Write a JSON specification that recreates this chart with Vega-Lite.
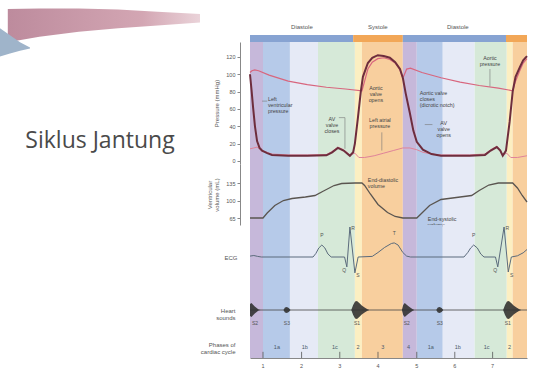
{
  "$schema": "https://vega.github.io/schema/vega-lite/v6.json",
  "padding": 0,
  "background": "white",
  "config": {"view": {"stroke": null}, "font": "Liberation Sans", "axis": {"grid": false}},
  "datasets": {
    "bands": [
      {"start": 0, "end": 68, "phase": "iso-relax"},
      {"start": 68, "end": 209, "phase": "rapid-fill"},
      {"start": 209, "end": 356, "phase": "diastasis"},
      {"start": 356, "end": 549, "phase": "atrial"},
      {"start": 549, "end": 586, "phase": "iso-contract"},
      {"start": 586, "end": 800, "phase": "ejection"},
      {"start": 800, "end": 873, "phase": "iso-relax"},
      {"start": 873, "end": 1009, "phase": "rapid-fill"},
      {"start": 1009, "end": 1176, "phase": "diastasis"},
      {"start": 1176, "end": 1344, "phase": "atrial"},
      {"start": 1344, "end": 1375, "phase": "iso-contract"},
      {"start": 1375, "end": 1450, "phase": "ejection"}
    ],
    "strip": [
      {"start": 0, "end": 540, "kind": "Diastole"},
      {"start": 540, "end": 800, "kind": "Systole"},
      {"start": 800, "end": 1340, "kind": "Diastole"},
      {"start": 1340, "end": 1450, "kind": "Systole"}
    ],
    "cyclelabels": [
      {"t": 272, "lab": "Diastole"},
      {"t": 669, "lab": "Systole"},
      {"t": 1088, "lab": "Diastole"}
    ],
    "lv": [
      {"t": 0, "p": 100}, {"t": 8, "p": 82}, {"t": 16, "p": 62}, {"t": 26, "p": 40}, {"t": 37, "p": 23},
      {"t": 50, "p": 15}, {"t": 63, "p": 12}, {"t": 90, "p": 9}, {"t": 115, "p": 7}, {"t": 200, "p": 6},
      {"t": 300, "p": 6}, {"t": 400, "p": 6.5}, {"t": 430, "p": 10}, {"t": 460, "p": 15}, {"t": 490, "p": 12},
      {"t": 523, "p": 6}, {"t": 540, "p": 10}, {"t": 549, "p": 20}, {"t": 565, "p": 50}, {"t": 580, "p": 80},
      {"t": 591, "p": 97}, {"t": 617, "p": 113}, {"t": 640, "p": 119}, {"t": 669, "p": 122}, {"t": 700, "p": 121},
      {"t": 732, "p": 119}, {"t": 760, "p": 114}, {"t": 785, "p": 106}, {"t": 800, "p": 96}, {"t": 815, "p": 78},
      {"t": 837, "p": 55}, {"t": 855, "p": 35}, {"t": 873, "p": 22}, {"t": 905, "p": 13}, {"t": 950, "p": 8},
      {"t": 1000, "p": 6}, {"t": 1061, "p": 6}, {"t": 1150, "p": 6}, {"t": 1230, "p": 7}, {"t": 1260, "p": 12},
      {"t": 1292, "p": 16}, {"t": 1310, "p": 12}, {"t": 1323, "p": 6}, {"t": 1340, "p": 12}, {"t": 1359, "p": 45},
      {"t": 1375, "p": 80}, {"t": 1390, "p": 97}, {"t": 1412, "p": 108}, {"t": 1430, "p": 116}, {"t": 1450, "p": 121}
    ],
    "aorta": [
      {"t": 0, "p": 102}, {"t": 10, "p": 104}, {"t": 25, "p": 105}, {"t": 45, "p": 104}, {"t": 100, "p": 99},
      {"t": 200, "p": 92}, {"t": 300, "p": 88}, {"t": 400, "p": 85}, {"t": 500, "p": 83}, {"t": 586, "p": 81},
      {"t": 600, "p": 92}, {"t": 617, "p": 106}, {"t": 640, "p": 114}, {"t": 669, "p": 118}, {"t": 700, "p": 119},
      {"t": 732, "p": 117}, {"t": 760, "p": 113}, {"t": 785, "p": 105}, {"t": 797, "p": 97}, {"t": 805, "p": 98},
      {"t": 820, "p": 106}, {"t": 840, "p": 107}, {"t": 900, "p": 102}, {"t": 1000, "p": 96}, {"t": 1100, "p": 91},
      {"t": 1200, "p": 87}, {"t": 1300, "p": 84}, {"t": 1375, "p": 81}, {"t": 1390, "p": 92}, {"t": 1412, "p": 104},
      {"t": 1430, "p": 113}, {"t": 1450, "p": 118}
    ],
    "la": [
      {"t": 0, "p": 14}, {"t": 20, "p": 15}, {"t": 37, "p": 16}, {"t": 63, "p": 12}, {"t": 115, "p": 8},
      {"t": 200, "p": 7}, {"t": 300, "p": 7}, {"t": 400, "p": 7.5}, {"t": 430, "p": 11}, {"t": 460, "p": 16},
      {"t": 490, "p": 13}, {"t": 523, "p": 7}, {"t": 549, "p": 9}, {"t": 570, "p": 4}, {"t": 600, "p": 4},
      {"t": 650, "p": 6}, {"t": 700, "p": 9}, {"t": 750, "p": 12}, {"t": 800, "p": 15}, {"t": 837, "p": 15},
      {"t": 873, "p": 13}, {"t": 905, "p": 10}, {"t": 950, "p": 8}, {"t": 1000, "p": 7}, {"t": 1061, "p": 7},
      {"t": 1150, "p": 7}, {"t": 1230, "p": 8}, {"t": 1260, "p": 13}, {"t": 1292, "p": 17}, {"t": 1310, "p": 13},
      {"t": 1323, "p": 7}, {"t": 1344, "p": 9}, {"t": 1365, "p": 4}, {"t": 1400, "p": 4}, {"t": 1450, "p": 6}
    ],
    "pressurePointers": [
      {"t": 63, "t2": 90, "p": 69, "p2": 69},
      {"t": 465, "t2": 497, "p": 50, "p2": 50},
      {"t": 497, "t2": 497, "p": 50, "p2": 14},
      {"t": 690, "t2": 690, "p": 33, "p2": 12},
      {"t": 915, "t2": 955, "p": 42, "p2": 42},
      {"t": 1256, "t2": 1256, "p": 106, "p2": 86}
    ],
    "pressureNotesCenter": [
      {"t": 1256, "p": 121, "txt": "Aortic\npressure"},
      {"t": 429, "p": 51, "txt": "AV\nvalve\ncloses"},
      {"t": 659, "p": 86, "txt": "Aortic\nvalve\nopens"},
      {"t": 680, "p": 50, "txt": "Left atrial\npressure"},
      {"t": 1014, "p": 46, "txt": "AV\nvalve\nopens"}
    ],
    "pressureNotesLeft": [
      {"t": 94, "p": 74, "txt": "Left\nventricular\npressure"},
      {"t": 889, "p": 81, "txt": "Aortic valve\ncloses\n(dicrotic notch)"}
    ],
    "volume": [
      {"t": 0, "v": 65}, {"t": 68, "v": 65}, {"t": 90, "v": 75}, {"t": 130, "v": 90}, {"t": 175, "v": 100},
      {"t": 220, "v": 104}, {"t": 290, "v": 107}, {"t": 340, "v": 110}, {"t": 380, "v": 118}, {"t": 440, "v": 130},
      {"t": 480, "v": 134}, {"t": 549, "v": 135}, {"t": 586, "v": 135}, {"t": 600, "v": 130}, {"t": 630, "v": 113},
      {"t": 670, "v": 92}, {"t": 720, "v": 76}, {"t": 760, "v": 68}, {"t": 800, "v": 65}, {"t": 873, "v": 65},
      {"t": 900, "v": 75}, {"t": 940, "v": 90}, {"t": 1000, "v": 102}, {"t": 1100, "v": 107}, {"t": 1160, "v": 110},
      {"t": 1200, "v": 120}, {"t": 1250, "v": 131}, {"t": 1300, "v": 135}, {"t": 1375, "v": 135}, {"t": 1400, "v": 125},
      {"t": 1425, "v": 110}, {"t": 1450, "v": 97}
    ],
    "volumeNotes": [
      {"t": 617, "v": 146, "txt": "End-diastolic\nvolume"},
      {"t": 931, "v": 67, "txt": "End-systolic\nvolume"}
    ],
    "ecg": [
      {"t": 0, "mv": 0.03}, {"t": 20, "mv": 0.05}, {"t": 40, "mv": 0.02}, {"t": 60, "mv": 0}, {"t": 330, "mv": 0},
      {"t": 345, "mv": 0.12}, {"t": 360, "mv": 0.3}, {"t": 376, "mv": 0.4}, {"t": 392, "mv": 0.3}, {"t": 408, "mv": 0.1},
      {"t": 425, "mv": 0}, {"t": 495, "mv": 0}, {"t": 507, "mv": -0.33}, {"t": 523, "mv": 1.0}, {"t": 549, "mv": -0.53},
      {"t": 566, "mv": 0}, {"t": 640, "mv": 0.02}, {"t": 670, "mv": 0.15}, {"t": 705, "mv": 0.32}, {"t": 740, "mv": 0.45},
      {"t": 755, "mv": 0.47}, {"t": 775, "mv": 0.4}, {"t": 800, "mv": 0.15}, {"t": 820, "mv": 0.03}, {"t": 840, "mv": 0},
      {"t": 1120, "mv": 0}, {"t": 1140, "mv": 0.15}, {"t": 1155, "mv": 0.3}, {"t": 1171, "mv": 0.4}, {"t": 1190, "mv": 0.3},
      {"t": 1208, "mv": 0.1}, {"t": 1225, "mv": 0}, {"t": 1285, "mv": 0}, {"t": 1297, "mv": -0.33}, {"t": 1330, "mv": 1.0},
      {"t": 1352, "mv": -0.5}, {"t": 1368, "mv": 0}, {"t": 1400, "mv": 0.04}, {"t": 1430, "mv": 0.14}, {"t": 1450, "mv": 0.25}
    ],
    "ecgLabels": [
      {"t": 376, "mv": 0.75, "lab": "P"}, {"t": 493, "mv": -0.42, "lab": "Q"}, {"t": 540, "mv": 0.98, "lab": "R"},
      {"t": 565, "mv": -0.6, "lab": "S"}, {"t": 755, "mv": 0.8, "lab": "T"},
      {"t": 1171, "mv": 0.75, "lab": "P"}, {"t": 1283, "mv": -0.42, "lab": "Q"}, {"t": 1347, "mv": 0.98, "lab": "R"},
      {"t": 1370, "mv": -0.6, "lab": "S"}
    ],
    "sounds": [
      {"t": 0, "hi": 0.6, "lo": -0.6}, {"t": 8, "hi": 0.7, "lo": -0.7}, {"t": 15, "hi": 0.55, "lo": -0.55},
      {"t": 25, "hi": 0.35, "lo": -0.35}, {"t": 35, "hi": 0.2, "lo": -0.2}, {"t": 45, "hi": 0.05, "lo": -0.05},
      {"t": 55, "hi": 0, "lo": 0}, {"t": 175, "hi": 0, "lo": 0}, {"t": 183, "hi": 0.25, "lo": -0.25},
      {"t": 193, "hi": 0.3, "lo": -0.3}, {"t": 203, "hi": 0.2, "lo": -0.2}, {"t": 212, "hi": 0, "lo": 0},
      {"t": 530, "hi": 0, "lo": 0}, {"t": 540, "hi": 0.5, "lo": -0.5}, {"t": 550, "hi": 0.85, "lo": -0.85},
      {"t": 560, "hi": 0.9, "lo": -0.9}, {"t": 572, "hi": 0.7, "lo": -0.7}, {"t": 585, "hi": 0.45, "lo": -0.45},
      {"t": 600, "hi": 0.25, "lo": -0.25}, {"t": 615, "hi": 0.08, "lo": -0.08}, {"t": 625, "hi": 0, "lo": 0},
      {"t": 795, "hi": 0, "lo": 0}, {"t": 802, "hi": 0.5, "lo": -0.5}, {"t": 810, "hi": 0.7, "lo": -0.7},
      {"t": 822, "hi": 0.5, "lo": -0.5}, {"t": 835, "hi": 0.3, "lo": -0.3}, {"t": 850, "hi": 0.1, "lo": -0.1},
      {"t": 860, "hi": 0, "lo": 0}, {"t": 975, "hi": 0, "lo": 0}, {"t": 983, "hi": 0.25, "lo": -0.25},
      {"t": 993, "hi": 0.3, "lo": -0.3}, {"t": 1003, "hi": 0.2, "lo": -0.2}, {"t": 1012, "hi": 0, "lo": 0},
      {"t": 1325, "hi": 0, "lo": 0}, {"t": 1335, "hi": 0.5, "lo": -0.5}, {"t": 1345, "hi": 0.85, "lo": -0.85},
      {"t": 1355, "hi": 0.9, "lo": -0.9}, {"t": 1367, "hi": 0.7, "lo": -0.7}, {"t": 1380, "hi": 0.45, "lo": -0.45},
      {"t": 1395, "hi": 0.25, "lo": -0.25}, {"t": 1410, "hi": 0.08, "lo": -0.08}, {"t": 1420, "hi": 0, "lo": 0},
      {"t": 1450, "hi": 0, "lo": 0}
    ],
    "soundLabels": [
      {"t": 26, "lab": "S2"}, {"t": 193, "lab": "S3"}, {"t": 560, "lab": "S1"},
      {"t": 821, "lab": "S2"}, {"t": 993, "lab": "S3"}, {"t": 1349, "lab": "S1"}
    ],
    "phaseLabels": [
      {"t": 141, "lab": "1a"}, {"t": 287, "lab": "1b"}, {"t": 444, "lab": "1c"}, {"t": 565, "lab": "2"},
      {"t": 695, "lab": "3"}, {"t": 830, "lab": "4"}, {"t": 946, "lab": "1a"}, {"t": 1088, "lab": "1b"},
      {"t": 1239, "lab": "1c"}, {"t": 1359, "lab": "2"}
    ],
    "timeTicks": [
      {"t": 68, "lab": "1"}, {"t": 270, "lab": "2"}, {"t": 470, "lab": "3"}, {"t": 670, "lab": "4"},
      {"t": 873, "lab": "5"}, {"t": 1072, "lab": "6"}, {"t": 1270, "lab": "7"}
    ],
    "swooshPink": [
      {"u": 0.039, "top": 0.032, "bottom": 0.15}, {"u": 0.197, "top": 0.03, "bottom": 0.13},
      {"u": 0.394, "top": 0.03, "bottom": 0.113}, {"u": 0.591, "top": 0.034, "bottom": 0.1},
      {"u": 0.788, "top": 0.042, "bottom": 0.09}, {"u": 1.0, "top": 0.05, "bottom": 0.08}
    ],
    "swooshBlue": [
      {"u": 0, "top": 0.1, "bottom": 0.2}, {"u": 0.05, "top": 0.125, "bottom": 0.19},
      {"u": 0.1, "top": 0.15, "bottom": 0.18}, {"u": 0.15, "top": 0.168, "bottom": 0.172}
    ]
  },
  "spacing": 0,
  "resolve": {"scale": {"x": "independent", "y": "independent", "color": "independent"}},
  "hconcat": [
    {
      "width": 200,
      "height": 282,
      "layer": [
        {
          "data": {"name": "swooshPink"},
          "mark": {"type": "area", "color": {"gradient": "linear", "x1": 0, "x2": 1, "y1": 0, "y2": 0, "stops": [{"offset": 0, "color": "#bd8b9d"}, {"offset": 0.7, "color": "#d3a6b3"}, {"offset": 1, "color": "#ead3d9"}]}},
          "encoding": {
            "x": {"field": "u", "type": "quantitative", "scale": {"domain": [0, 1], "nice": false, "zero": false}, "axis": null},
            "y": {"field": "top", "type": "quantitative", "scale": {"domain": [0, 1], "nice": false, "zero": false, "reverse": true}, "axis": null},
            "y2": {"field": "bottom"}
          }
        },
        {
          "data": {"name": "swooshBlue"},
          "mark": {"type": "area", "color": "#9fb4ca"},
          "encoding": {
            "x": {"field": "u", "type": "quantitative", "scale": {"domain": [0, 1], "nice": false, "zero": false}, "axis": null},
            "y": {"field": "top", "type": "quantitative", "scale": {"domain": [0, 1], "nice": false, "zero": false, "reverse": true}, "axis": null},
            "y2": {"field": "bottom"}
          }
        },
        {
          "data": {"values": [{}]},
          "mark": {"type": "text", "text": "Siklus Jantung", "fontSize": 23, "font": "Open Sans", "color": "#4a4a4a"}
        }
      ]
    },
    {
      "spacing": 0,
      "bounds": "flush",
      "resolve": {"scale": {"x": "independent", "y": "independent", "color": "independent"}},
      "vconcat": [
        {
          "width": 277,
          "height": 42,
          "layer": [
            {
              "data": {"name": "strip"},
              "mark": {"type": "rect"},
              "encoding": {
                "x": {"field": "start", "type": "quantitative", "scale": {"domain": [0, 1450], "nice": false, "zero": false}, "axis": null},
                "x2": {"field": "end"},
                "y": {"datum": 0, "type": "quantitative", "scale": {"domain": [0, 6], "nice": false, "zero": false}, "axis": null},
                "y2": {"datum": 1},
                "color": {"field": "kind", "type": "nominal", "scale": {"domain": ["Diastole", "Systole"], "range": ["#87a3d2", "#f2a757"]}, "legend": null}
              }
            },
            {
              "data": {"name": "cyclelabels"},
              "mark": {"type": "text", "fontSize": 6, "color": "#555555"},
              "encoding": {
                "x": {"field": "t", "type": "quantitative", "scale": {"domain": [0, 1450], "nice": false, "zero": false}, "axis": null},
                "y": {"datum": 2.1, "type": "quantitative", "scale": {"domain": [0, 6], "nice": false, "zero": false}, "axis": null},
                "text": {"field": "lab"}
              }
            }
          ]
        },
        {
          "width": 277,
          "height": 122,
          "layer": [
            {
              "data": {"name": "bands"},
              "mark": {"type": "rect"},
              "encoding": {
                "x": {"field": "start", "type": "quantitative", "scale": {"domain": [0, 1450], "nice": false, "zero": false}, "axis": null},
                "x2": {"field": "end"},
                "y": {"datum": -3.5, "type": "quantitative", "scale": {"domain": [-3.5, 137.2], "nice": false, "zero": false},
                  "axis": {"values": [0, 20, 40, 60, 80, 100, 120], "title": "Pressure (mmHg)", "offset": 10, "tickSize": 3, "labelFontSize": 5.5, "titleFontSize": 6, "titleFontWeight": "normal", "domainColor": "#888888", "tickColor": "#888888", "labelColor": "#555555", "titleColor": "#555555", "titlePadding": 6, "labelPadding": 2}},
                "y2": {"datum": 137.2},
                "color": {"field": "phase", "type": "nominal", "scale": {"domain": ["iso-relax", "rapid-fill", "diastasis", "atrial", "iso-contract", "ejection"], "range": ["#c6b8da", "#b6cae9", "#e6eaf6", "#d6e9d8", "#fcefc2", "#f8cf9e"]}, "legend": null}
              }
            },
            {
              "data": {"name": "aorta"},
              "mark": {"type": "line", "color": "#d8667e", "strokeWidth": 1.2},
              "encoding": {
                "x": {"field": "t", "type": "quantitative", "scale": {"domain": [0, 1450], "nice": false, "zero": false}, "axis": null},
                "y": {"field": "p", "type": "quantitative", "scale": {"domain": [-3.5, 137.2], "nice": false, "zero": false},
                  "axis": {"values": [0, 20, 40, 60, 80, 100, 120], "title": "Pressure (mmHg)", "offset": 10, "tickSize": 3, "labelFontSize": 5.5, "titleFontSize": 6, "titleFontWeight": "normal", "domainColor": "#888888", "tickColor": "#888888", "labelColor": "#555555", "titleColor": "#555555", "titlePadding": 6, "labelPadding": 2}}
              }
            },
            {
              "data": {"name": "la"},
              "mark": {"type": "line", "color": "#e08399", "strokeWidth": 1},
              "encoding": {
                "x": {"field": "t", "type": "quantitative", "scale": {"domain": [0, 1450], "nice": false, "zero": false}, "axis": null},
                "y": {"field": "p", "type": "quantitative", "scale": {"domain": [-3.5, 137.2], "nice": false, "zero": false},
                  "axis": {"values": [0, 20, 40, 60, 80, 100, 120], "title": "Pressure (mmHg)", "offset": 10, "tickSize": 3, "labelFontSize": 5.5, "titleFontSize": 6, "titleFontWeight": "normal", "domainColor": "#888888", "tickColor": "#888888", "labelColor": "#555555", "titleColor": "#555555", "titlePadding": 6, "labelPadding": 2}}
              }
            },
            {
              "data": {"name": "lv"},
              "mark": {"type": "line", "color": "#6e2d3d", "strokeWidth": 2},
              "encoding": {
                "x": {"field": "t", "type": "quantitative", "scale": {"domain": [0, 1450], "nice": false, "zero": false}, "axis": null},
                "y": {"field": "p", "type": "quantitative", "scale": {"domain": [-3.5, 137.2], "nice": false, "zero": false},
                  "axis": {"values": [0, 20, 40, 60, 80, 100, 120], "title": "Pressure (mmHg)", "offset": 10, "tickSize": 3, "labelFontSize": 5.5, "titleFontSize": 6, "titleFontWeight": "normal", "domainColor": "#888888", "tickColor": "#888888", "labelColor": "#555555", "titleColor": "#555555", "titlePadding": 6, "labelPadding": 2}}
              }
            },
            {
              "data": {"name": "pressurePointers"},
              "mark": {"type": "rule", "color": "#777777", "strokeWidth": 0.6},
              "encoding": {
                "x": {"field": "t", "type": "quantitative", "scale": {"domain": [0, 1450], "nice": false, "zero": false}, "axis": null},
                "x2": {"field": "t2"},
                "y": {"field": "p", "type": "quantitative", "scale": {"domain": [-3.5, 137.2], "nice": false, "zero": false},
                  "axis": {"values": [0, 20, 40, 60, 80, 100, 120], "title": "Pressure (mmHg)", "offset": 10, "tickSize": 3, "labelFontSize": 5.5, "titleFontSize": 6, "titleFontWeight": "normal", "domainColor": "#888888", "tickColor": "#888888", "labelColor": "#555555", "titleColor": "#555555", "titlePadding": 6, "labelPadding": 2}},
                "y2": {"field": "p2"}
              }
            },
            {
              "data": {"name": "pressureNotesCenter"},
              "mark": {"type": "text", "fontSize": 5.3, "lineHeight": 6, "lineBreak": "\n", "align": "center", "baseline": "top", "color": "#444444"},
              "encoding": {
                "x": {"field": "t", "type": "quantitative", "scale": {"domain": [0, 1450], "nice": false, "zero": false}, "axis": null},
                "y": {"field": "p", "type": "quantitative", "scale": {"domain": [-3.5, 137.2], "nice": false, "zero": false},
                  "axis": {"values": [0, 20, 40, 60, 80, 100, 120], "title": "Pressure (mmHg)", "offset": 10, "tickSize": 3, "labelFontSize": 5.5, "titleFontSize": 6, "titleFontWeight": "normal", "domainColor": "#888888", "tickColor": "#888888", "labelColor": "#555555", "titleColor": "#555555", "titlePadding": 6, "labelPadding": 2}},
                "text": {"field": "txt"}
              }
            },
            {
              "data": {"name": "pressureNotesLeft"},
              "mark": {"type": "text", "fontSize": 5.3, "lineHeight": 6, "lineBreak": "\n", "align": "left", "baseline": "top", "color": "#444444"},
              "encoding": {
                "x": {"field": "t", "type": "quantitative", "scale": {"domain": [0, 1450], "nice": false, "zero": false}, "axis": null},
                "y": {"field": "p", "type": "quantitative", "scale": {"domain": [-3.5, 137.2], "nice": false, "zero": false},
                  "axis": {"values": [0, 20, 40, 60, 80, 100, 120], "title": "Pressure (mmHg)", "offset": 10, "tickSize": 3, "labelFontSize": 5.5, "titleFontSize": 6, "titleFontWeight": "normal", "domainColor": "#888888", "tickColor": "#888888", "labelColor": "#555555", "titleColor": "#555555", "titlePadding": 6, "labelPadding": 2}},
                "text": {"field": "txt"}
              }
            }
          ]
        },
        {
          "width": 277,
          "height": 61,
          "layer": [
            {
              "data": {"name": "bands"},
              "mark": {"type": "rect"},
              "encoding": {
                "x": {"field": "start", "type": "quantitative", "scale": {"domain": [0, 1450], "nice": false, "zero": false}, "axis": null},
                "x2": {"field": "end"},
                "y": {"datum": 51, "type": "quantitative", "scale": {"domain": [51, 173], "nice": false, "zero": false},
                  "axis": {"values": [65, 100, 135], "title": ["Ventricular", "volume (mL)"], "offset": 10, "tickSize": 3, "labelFontSize": 5.5, "titleFontSize": 6, "titleFontWeight": "normal", "domainColor": "#888888", "tickColor": "#888888", "labelColor": "#555555", "titleColor": "#555555", "titlePadding": 6, "labelPadding": 2, "titleLineHeight": 7}},
                "y2": {"datum": 173},
                "color": {"field": "phase", "type": "nominal", "scale": {"domain": ["iso-relax", "rapid-fill", "diastasis", "atrial", "iso-contract", "ejection"], "range": ["#c6b8da", "#b6cae9", "#e6eaf6", "#d6e9d8", "#fcefc2", "#f8cf9e"]}, "legend": null}
              }
            },
            {
              "data": {"name": "volume"},
              "mark": {"type": "line", "color": "#5a5550", "strokeWidth": 1.3},
              "encoding": {
                "x": {"field": "t", "type": "quantitative", "scale": {"domain": [0, 1450], "nice": false, "zero": false}, "axis": null},
                "y": {"field": "v", "type": "quantitative", "scale": {"domain": [51, 173], "nice": false, "zero": false},
                  "axis": {"values": [65, 100, 135], "title": ["Ventricular", "volume (mL)"], "offset": 10, "tickSize": 3, "labelFontSize": 5.5, "titleFontSize": 6, "titleFontWeight": "normal", "domainColor": "#888888", "tickColor": "#888888", "labelColor": "#555555", "titleColor": "#555555", "titlePadding": 6, "labelPadding": 2, "titleLineHeight": 7}}
              }
            },
            {
              "data": {"name": "volumeNotes"},
              "mark": {"type": "text", "fontSize": 5.3, "lineHeight": 6, "lineBreak": "\n", "align": "left", "baseline": "top", "color": "#444444"},
              "encoding": {
                "x": {"field": "t", "type": "quantitative", "scale": {"domain": [0, 1450], "nice": false, "zero": false}, "axis": null},
                "y": {"field": "v", "type": "quantitative", "scale": {"domain": [51, 173], "nice": false, "zero": false},
                  "axis": {"values": [65, 100, 135], "title": ["Ventricular", "volume (mL)"], "offset": 10, "tickSize": 3, "labelFontSize": 5.5, "titleFontSize": 6, "titleFontWeight": "normal", "domainColor": "#888888", "tickColor": "#888888", "labelColor": "#555555", "titleColor": "#555555", "titlePadding": 6, "labelPadding": 2, "titleLineHeight": 7}},
                "text": {"field": "txt"}
              }
            }
          ]
        },
        {
          "width": 277,
          "height": 65,
          "layer": [
            {
              "data": {"name": "bands"},
              "mark": {"type": "rect"},
              "encoding": {
                "x": {"field": "start", "type": "quantitative", "scale": {"domain": [0, 1450], "nice": false, "zero": false}, "axis": null},
                "x2": {"field": "end"},
                "y": {"datum": -1.1, "type": "quantitative", "scale": {"domain": [-1.1, 1.0667], "nice": false, "zero": false},
                  "axis": {"title": "ECG", "titleAngle": 0, "titleAlign": "right", "titleBaseline": "middle", "labels": false, "ticks": false, "domain": false, "titlePadding": 13, "titleFontSize": 6, "titleFontWeight": "normal", "titleColor": "#555555"}},
                "y2": {"datum": 1.0667},
                "color": {"field": "phase", "type": "nominal", "scale": {"domain": ["iso-relax", "rapid-fill", "diastasis", "atrial", "iso-contract", "ejection"], "range": ["#c6b8da", "#b6cae9", "#e6eaf6", "#d6e9d8", "#fcefc2", "#f8cf9e"]}, "legend": null}
              }
            },
            {
              "data": {"name": "ecg"},
              "mark": {"type": "line", "color": "#5b6b7c", "strokeWidth": 1},
              "encoding": {
                "x": {"field": "t", "type": "quantitative", "scale": {"domain": [0, 1450], "nice": false, "zero": false}, "axis": null},
                "y": {"field": "mv", "type": "quantitative", "scale": {"domain": [-1.1, 1.0667], "nice": false, "zero": false},
                  "axis": {"title": "ECG", "titleAngle": 0, "titleAlign": "right", "titleBaseline": "middle", "labels": false, "ticks": false, "domain": false, "titlePadding": 13, "titleFontSize": 6, "titleFontWeight": "normal", "titleColor": "#555555"}}
              }
            },
            {
              "data": {"name": "ecgLabels"},
              "mark": {"type": "text", "fontSize": 5, "color": "#555555"},
              "encoding": {
                "x": {"field": "t", "type": "quantitative", "scale": {"domain": [0, 1450], "nice": false, "zero": false}, "axis": null},
                "y": {"field": "mv", "type": "quantitative", "scale": {"domain": [-1.1, 1.0667], "nice": false, "zero": false},
                  "axis": {"title": "ECG", "titleAngle": 0, "titleAlign": "right", "titleBaseline": "middle", "labels": false, "ticks": false, "domain": false, "titlePadding": 13, "titleFontSize": 6, "titleFontWeight": "normal", "titleColor": "#555555"}},
                "text": {"field": "lab"}
              }
            }
          ]
        },
        {
          "width": 277,
          "height": 40,
          "layer": [
            {
              "data": {"name": "bands"},
              "mark": {"type": "rect"},
              "encoding": {
                "x": {"field": "start", "type": "quantitative", "scale": {"domain": [0, 1450], "nice": false, "zero": false}, "axis": null},
                "x2": {"field": "end"},
                "y": {"datum": -2, "type": "quantitative", "scale": {"domain": [-2, 2], "nice": false, "zero": false},
                  "axis": {"title": ["Heart", "sounds"], "titleAngle": 0, "titleAlign": "right", "titleBaseline": "middle", "labels": false, "ticks": false, "domain": false, "titlePadding": 8, "titleFontSize": 6, "titleFontWeight": "normal", "titleColor": "#555555", "titleLineHeight": 7}},
                "y2": {"datum": 2},
                "color": {"field": "phase", "type": "nominal", "scale": {"domain": ["iso-relax", "rapid-fill", "diastasis", "atrial", "iso-contract", "ejection"], "range": ["#c6b8da", "#b6cae9", "#e6eaf6", "#d6e9d8", "#fcefc2", "#f8cf9e"]}, "legend": null}
              }
            },
            {
              "data": {"values": [{}]},
              "mark": {"type": "rule", "color": "#444444", "strokeWidth": 0.8},
              "encoding": {
                "x": {"datum": 0, "type": "quantitative", "scale": {"domain": [0, 1450], "nice": false, "zero": false}, "axis": null},
                "x2": {"datum": 1450},
                "y": {"datum": 0, "type": "quantitative", "scale": {"domain": [-2, 2], "nice": false, "zero": false},
                  "axis": {"title": ["Heart", "sounds"], "titleAngle": 0, "titleAlign": "right", "titleBaseline": "middle", "labels": false, "ticks": false, "domain": false, "titlePadding": 8, "titleFontSize": 6, "titleFontWeight": "normal", "titleColor": "#555555", "titleLineHeight": 7}}
              }
            },
            {
              "data": {"name": "sounds"},
              "mark": {"type": "area", "color": "#333333", "opacity": 0.9},
              "encoding": {
                "x": {"field": "t", "type": "quantitative", "scale": {"domain": [0, 1450], "nice": false, "zero": false}, "axis": null},
                "y": {"field": "hi", "type": "quantitative", "scale": {"domain": [-2, 2], "nice": false, "zero": false},
                  "axis": {"title": ["Heart", "sounds"], "titleAngle": 0, "titleAlign": "right", "titleBaseline": "middle", "labels": false, "ticks": false, "domain": false, "titlePadding": 8, "titleFontSize": 6, "titleFontWeight": "normal", "titleColor": "#555555", "titleLineHeight": 7}},
                "y2": {"field": "lo"}
              }
            },
            {
              "data": {"name": "soundLabels"},
              "mark": {"type": "text", "fontSize": 5, "color": "#555555", "baseline": "top"},
              "encoding": {
                "x": {"field": "t", "type": "quantitative", "scale": {"domain": [0, 1450], "nice": false, "zero": false}, "axis": null},
                "y": {"datum": -1.1, "type": "quantitative", "scale": {"domain": [-2, 2], "nice": false, "zero": false},
                  "axis": {"title": ["Heart", "sounds"], "titleAngle": 0, "titleAlign": "right", "titleBaseline": "middle", "labels": false, "ticks": false, "domain": false, "titlePadding": 8, "titleFontSize": 6, "titleFontWeight": "normal", "titleColor": "#555555", "titleLineHeight": 7}},
                "text": {"field": "lab"}
              }
            }
          ]
        },
        {
          "width": 277,
          "height": 28,
          "layer": [
            {
              "data": {"name": "bands"},
              "mark": {"type": "rect"},
              "encoding": {
                "x": {"field": "start", "type": "quantitative", "scale": {"domain": [0, 1450], "nice": false, "zero": false},
                  "axis": {"labels": false, "ticks": false, "domain": true, "domainColor": "#888888", "title": null}},
                "x2": {"field": "end"},
                "y": {"datum": 0, "type": "quantitative", "scale": {"domain": [0, 1], "nice": false, "zero": false},
                  "axis": {"title": ["Phases of", "cardiac cycle"], "titleAngle": 0, "titleAlign": "right", "titleBaseline": "middle", "labels": false, "ticks": false, "domain": false, "titlePadding": 8, "titleFontSize": 6, "titleFontWeight": "normal", "titleColor": "#555555", "titleLineHeight": 7}},
                "y2": {"datum": 1},
                "color": {"field": "phase", "type": "nominal", "scale": {"domain": ["iso-relax", "rapid-fill", "diastasis", "atrial", "iso-contract", "ejection"], "range": ["#c6b8da", "#b6cae9", "#e6eaf6", "#d6e9d8", "#fcefc2", "#f8cf9e"]}, "legend": null}
              }
            },
            {
              "data": {"name": "phaseLabels"},
              "mark": {"type": "text", "fontSize": 5.5, "color": "#4a5a6c"},
              "encoding": {
                "x": {"field": "t", "type": "quantitative", "scale": {"domain": [0, 1450], "nice": false, "zero": false},
                  "axis": {"labels": false, "ticks": false, "domain": true, "domainColor": "#888888", "title": null}},
                "y": {"datum": 0.4, "type": "quantitative", "scale": {"domain": [0, 1], "nice": false, "zero": false},
                  "axis": {"title": ["Phases of", "cardiac cycle"], "titleAngle": 0, "titleAlign": "right", "titleBaseline": "middle", "labels": false, "ticks": false, "domain": false, "titlePadding": 8, "titleFontSize": 6, "titleFontWeight": "normal", "titleColor": "#555555", "titleLineHeight": 7}},
                "text": {"field": "lab"}
              }
            },
            {
              "data": {"name": "timeTicks"},
              "mark": {"type": "rule", "color": "#555555", "strokeWidth": 0.8},
              "encoding": {
                "x": {"field": "t", "type": "quantitative", "scale": {"domain": [0, 1450], "nice": false, "zero": false},
                  "axis": {"labels": false, "ticks": false, "domain": true, "domainColor": "#888888", "title": null}},
                "y": {"datum": 0, "type": "quantitative", "scale": {"domain": [0, 1], "nice": false, "zero": false},
                  "axis": {"title": ["Phases of", "cardiac cycle"], "titleAngle": 0, "titleAlign": "right", "titleBaseline": "middle", "labels": false, "ticks": false, "domain": false, "titlePadding": 8, "titleFontSize": 6, "titleFontWeight": "normal", "titleColor": "#555555", "titleLineHeight": 7}},
                "y2": {"datum": 0.22}
              }
            },
            {
              "data": {"name": "timeTicks"},
              "mark": {"type": "text", "fontSize": 5.5, "color": "#555555", "baseline": "top"},
              "encoding": {
                "x": {"field": "t", "type": "quantitative", "scale": {"domain": [0, 1450], "nice": false, "zero": false},
                  "axis": {"labels": false, "ticks": false, "domain": true, "domainColor": "#888888", "title": null}},
                "y": {"datum": -0.2, "type": "quantitative", "scale": {"domain": [0, 1], "nice": false, "zero": false},
                  "axis": {"title": ["Phases of", "cardiac cycle"], "titleAngle": 0, "titleAlign": "right", "titleBaseline": "middle", "labels": false, "ticks": false, "domain": false, "titlePadding": 8, "titleFontSize": 6, "titleFontWeight": "normal", "titleColor": "#555555", "titleLineHeight": 7}},
                "text": {"field": "lab"}
              }
            }
          ]
        }
      ]
    }
  ]
}
